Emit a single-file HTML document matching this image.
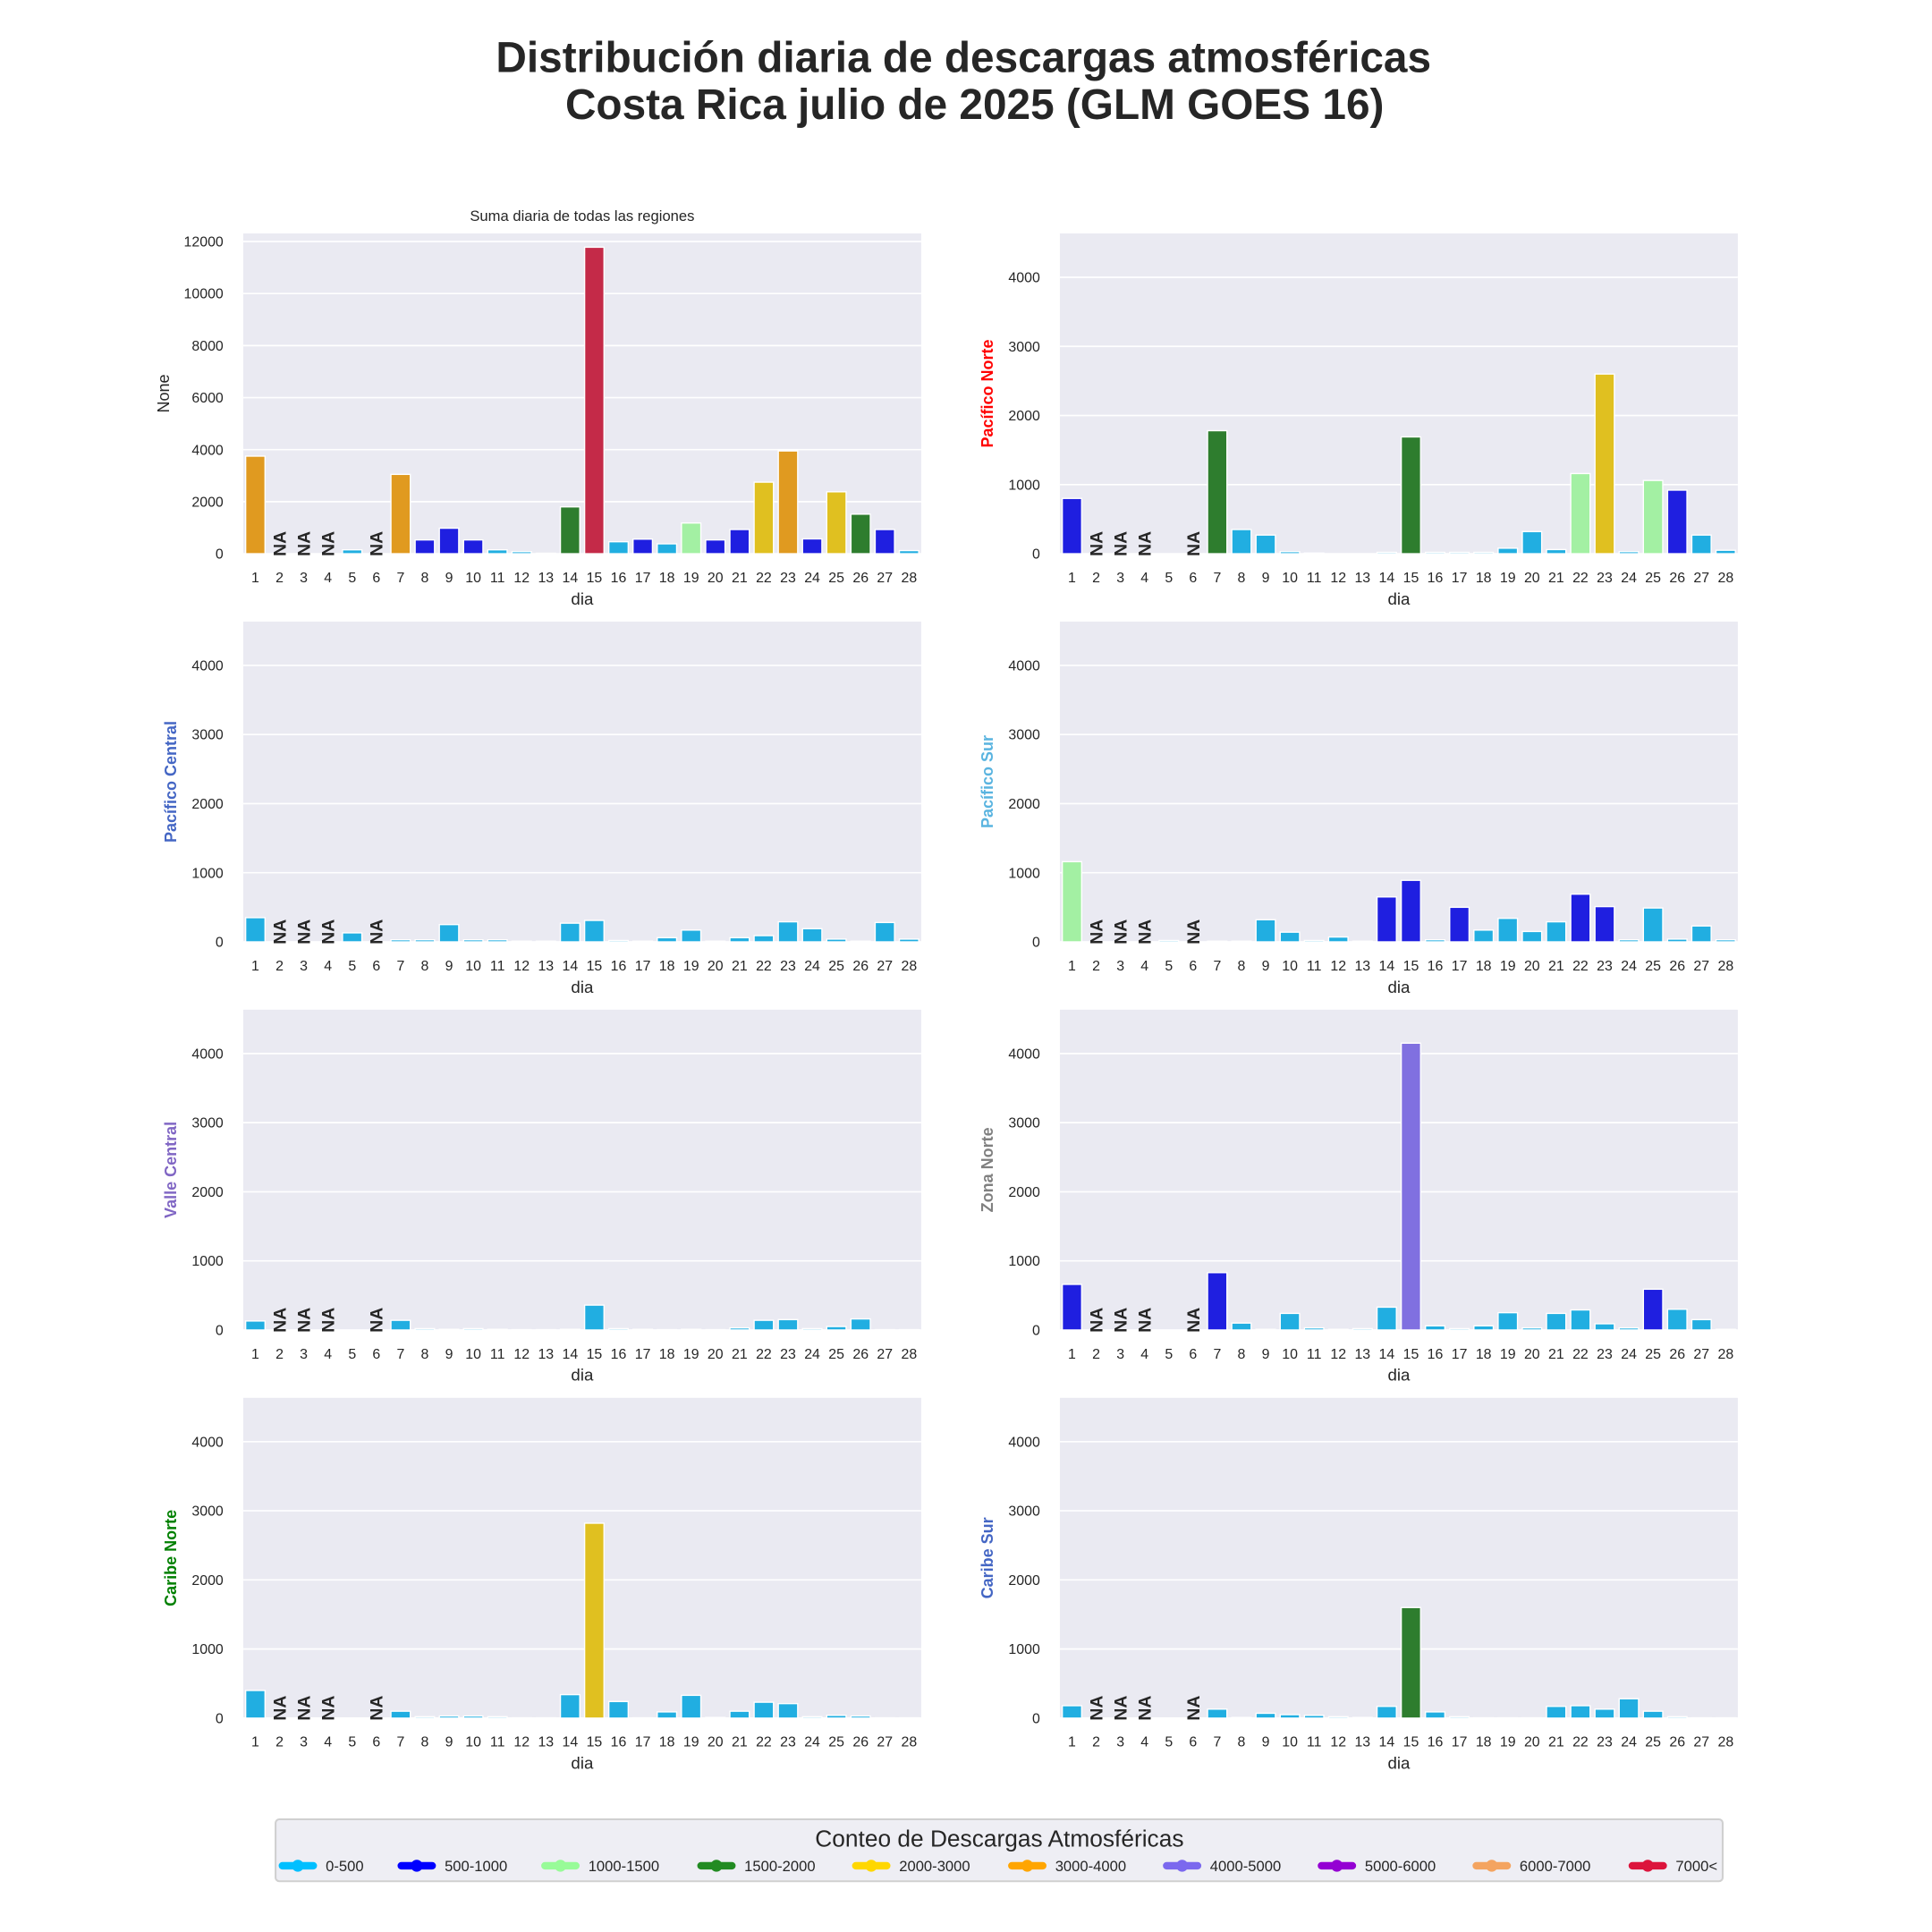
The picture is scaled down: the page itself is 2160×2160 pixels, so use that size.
<!DOCTYPE html>
<html><head><meta charset="utf-8"><style>
html,body{margin:0;padding:0;background:#fff}
svg{display:block;font-family:"Liberation Sans",Arial,sans-serif}
</style></head><body>
<svg id="chart" width="2160" height="2160" viewBox="0 0 1560 1560" xmlns="http://www.w3.org/2000/svg">
<text x="778" y="58" text-anchor="middle" font-size="34.5" font-weight="bold" fill="#262626">Distribución diaria de descargas atmosféricas</text>
<text x="787" y="96" text-anchor="middle" font-size="34.5" font-weight="bold" fill="#262626">Costa Rica julio de 2025 (GLM GOES 16)</text>
<g id="panels"></g>
<g>
<rect x="222.5" y="1469" width="1168.5" height="50" fill="#eeeef4" stroke="#d0d0d0" stroke-width="1.5" rx="3"/>
<text x="807" y="1491" text-anchor="middle" font-size="19" fill="#262626">Conteo de Descargas Atmosféricas</text>
<g id="legend-items"></g>
</g>
</svg>
<script>
const days = [1,2,3,4,5,6,7,8,9,10,11,12,13,14,15,16,17,18,19,20,21,22,23,24,25,26,27,28];
const naDays = [2,3,4,6];
const totalVals = [3750,0,0,0,150,0,3050,530,980,530,150,80,20,1800,11780,460,560,380,1180,530,930,2750,3950,570,2380,1520,930,120];
const pacNorteVals = [800,0,0,0,0,0,1780,350,270,30,10,0,0,20,1690,20,20,20,80,320,60,1160,2600,30,1060,920,270,50];
const pacCentralVals = [350,0,0,0,130,0,30,30,250,30,30,10,10,270,310,20,10,60,170,10,60,90,290,190,40,10,280,40];
const pacSurVals = [1160,0,0,0,20,0,10,10,320,140,20,70,10,650,890,30,500,170,340,150,290,690,510,30,490,40,230,30];
const valleCentralVals = [130,0,0,0,0,0,140,20,10,20,10,5,5,10,360,20,10,5,10,5,30,140,150,20,50,160,5,5];
const zonaNorteVals = [660,0,0,0,0,0,830,100,10,240,30,10,20,330,4150,60,20,60,250,30,240,290,90,30,590,300,150,10];
const caribeNorteVals = [400,0,0,0,0,0,100,20,30,30,20,5,5,340,2820,240,5,90,330,10,100,230,210,20,40,30,5,5];
const caribeSurVals = [180,0,0,0,0,0,130,10,70,50,40,20,10,170,1600,90,20,5,5,5,170,180,130,280,100,20,5,5];
const totalTicks = [0,2000,4000,6000,8000,10000,12000];
const regionTicks = [0,1000,2000,3000,4000];
const binLabels = ["0-500","500-1000","1000-1500","1500-2000","2000-3000","3000-4000","4000-5000","5000-6000","6000-7000","7000<"];
const binColors = ["#21aee1","#1f1fe0","#a3f0a3","#2e7d2e","#e0c020","#e09a20","#8070e0","#9400d3","#f4a460","#c42a48"];
const legendColors = ["#00bfff","#0000ff","#98fb98","#228b22","#ffd700","#ffa500","#7b68ee","#9400d3","#f4a460","#dc143c"];
const binEdges = [500,1000,1500,2000,3000,4000,5000,6000,7000];

const LX = 196.4, RX = 855.8;
const rowY = [188.5, 501.9, 815.3, 1128.7];
const panels = [
 {name:"total", label:"None", lc:"#262626", bold:false, vals:totalVals, ticks:totalTicks, ymax:12310, x:LX, y:rowY[0], sub:"Suma diaria de todas las regiones"},
 {name:"pacifico-norte", label:"Pacífico Norte", lc:"#ff0000", bold:true, vals:pacNorteVals, ticks:regionTicks, ymax:4634, x:RX, y:rowY[0]},
 {name:"pacifico-central", label:"Pacífico Central", lc:"#4466c4", bold:true, vals:pacCentralVals, ticks:regionTicks, ymax:4634, x:LX, y:rowY[1]},
 {name:"pacifico-sur", label:"Pacífico Sur", lc:"#5ab4e0", bold:true, vals:pacSurVals, ticks:regionTicks, ymax:4634, x:RX, y:rowY[1]},
 {name:"valle-central", label:"Valle Central", lc:"#8066c4", bold:true, vals:valleCentralVals, ticks:regionTicks, ymax:4634, x:LX, y:rowY[2]},
 {name:"zona-norte", label:"Zona Norte", lc:"#808080", bold:true, vals:zonaNorteVals, ticks:regionTicks, ymax:4634, x:RX, y:rowY[2]},
 {name:"caribe-norte", label:"Caribe Norte", lc:"#008000", bold:true, vals:caribeNorteVals, ticks:regionTicks, ymax:4634, x:LX, y:rowY[3]},
 {name:"caribe-sur", label:"Caribe Sur", lc:"#4466c4", bold:true, vals:caribeSurVals, ticks:regionTicks, ymax:4634, x:RX, y:rowY[3]}
];
const NS = "http://www.w3.org/2000/svg";
function mk(tag, attrs, parent){const e=document.createElementNS(NS,tag);for(const k in attrs)e.setAttribute(k,attrs[k]);parent.appendChild(e);return e;}
function colorFor(v){let i=0;while(i<binEdges.length && v>=binEdges[i])i++;return binColors[i];}
const root = document.getElementById("panels");
const W = 547.4, H = 258.6;
panels.forEach(p=>{
  const g = mk("g",{},root);
  
  
  const bg = mk("rect",{x:p.x,y:p.y,width:W,height:H,fill:"#eaeaf2"},g);
  
  
  const yS = v => p.y + H - v/p.ymax*H;
  const bw = W/days.length;
  const xS = i => p.x + bw*(i+0.5);
  p.ticks.forEach(t=>{
    mk("line",{x1:p.x,x2:p.x+W,y1:yS(t),y2:yS(t),stroke:"#fff","stroke-width":1.2},g);
    const tl = mk("text",{x:p.x-16,y:yS(t)+4,"text-anchor":"end","font-size":11.5,fill:"#262626"},g);
    tl.textContent = t;
    
    
  });
  days.forEach((d,i)=>{
    const v = p.vals[i];
    if(v>0){
      const r = mk("rect",{x:xS(i)-bw*0.4,y:yS(v),width:bw*0.8,height:yS(0)-yS(v),fill:colorFor(v),stroke:"#fff","stroke-width":1},g);
      
      
    }
    const xl = mk("text",{x:xS(i),y:p.y+H+23,"text-anchor":"middle","font-size":11.5,fill:"#262626"},g);
    xl.textContent = d;
    
    
    if(naDays.indexOf(d)>=0){
      const na = mk("text",{x:0,y:0,"font-size":14,"font-weight":"bold",fill:"#262626",transform:"translate("+(xS(i)+5)+","+(yS(0)+2)+") rotate(-90)"},g);
      na.textContent = "NA";
      
      
    }
  });
  const xt = mk("text",{x:p.x+W/2,y:p.y+H+41,"text-anchor":"middle","font-size":13.5,fill:"#262626"},g);
  xt.textContent = "dia";
  
  
  const lx = p.name==="total" ? p.x-60 : p.x-54;
  const yt = mk("text",{x:0,y:0,"text-anchor":"middle","font-size":13,"font-weight":p.bold?"bold":"normal",fill:p.lc,transform:"translate("+lx+","+(p.y+H/2)+") rotate(-90)"},g);
  yt.textContent = p.label;
  
  
  if(p.sub){
    const st = mk("text",{x:p.x+W/2,y:p.y-10,"text-anchor":"middle","font-size":12,fill:"#262626"},g);
    st.textContent = p.sub;
    
    
  }
});
const lg = document.getElementById("legend-items");
const legX = [225,321,437,563,688,814,939,1064,1189,1315];
binLabels.forEach((lab,i)=>{
  const g = mk("g",{},lg);
  
  
  mk("line",{x1:legX[i]+3,x2:legX[i]+28,y1:1506.5,y2:1506.5,stroke:legendColors[i],"stroke-width":6,"stroke-linecap":"round"},g);
  mk("circle",{cx:legX[i]+15.5,cy:1506.5,r:4.8,fill:legendColors[i]},g);
  const t = mk("text",{x:legX[i]+38,y:1511,"font-size":12,fill:"#262626"},g);
  t.textContent = lab;
});
</script>
</body></html>
